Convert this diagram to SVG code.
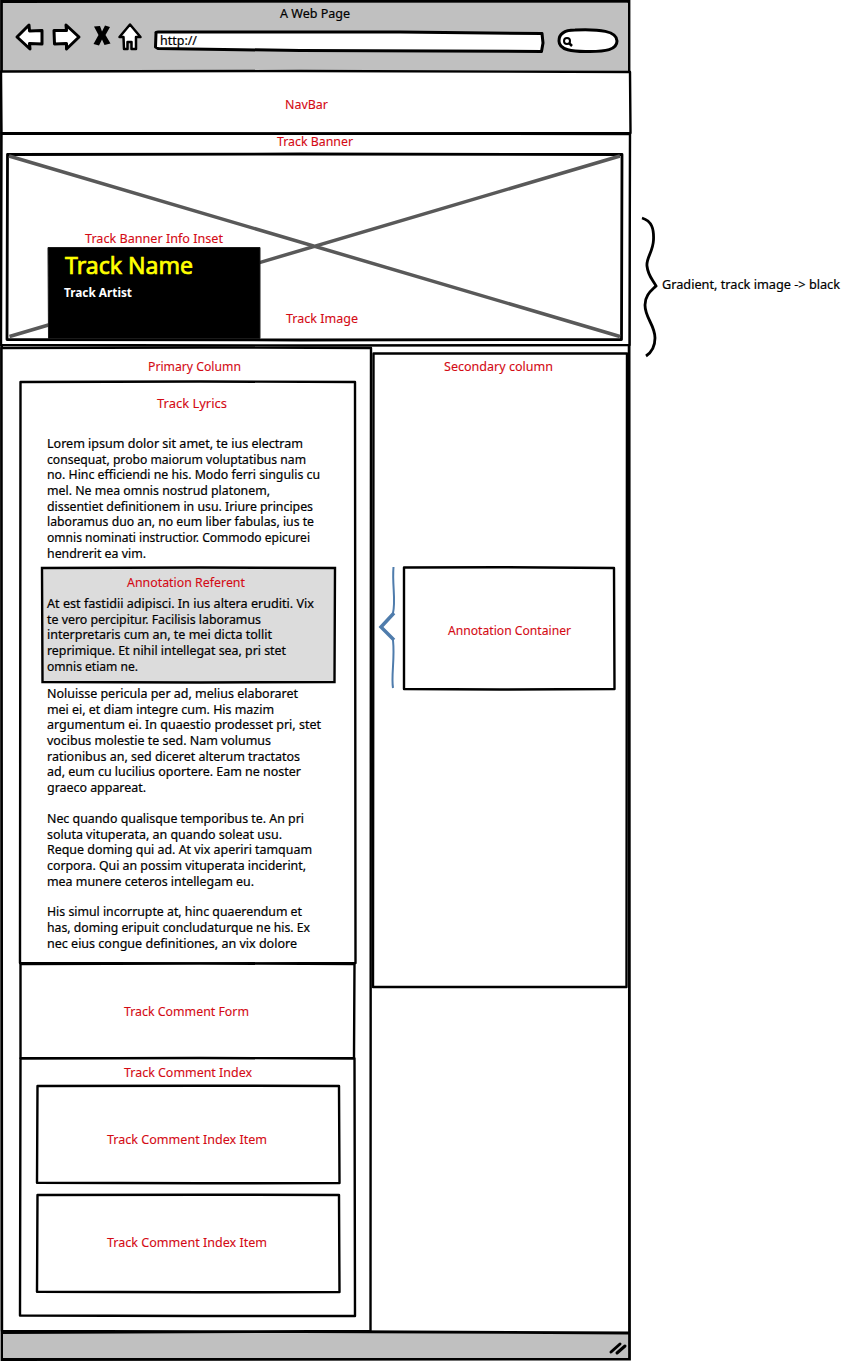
<svg xmlns="http://www.w3.org/2000/svg" width="866" height="1361" viewBox="0 0 866 1361">
<style>
text{font-family:"Noto Sans","Open Sans","DejaVu Sans",sans-serif;font-size:12.5px;fill:#000;stroke:#000;stroke-width:.2}
text.l{fill:#d40a14;stroke:#d40a14;stroke-width:.1}
.b{fill:#fff;stroke:#000;stroke-width:2.400;stroke-linejoin:round}
.n{fill:none;stroke:#000;stroke-width:2.400;stroke-linejoin:round}
.i{fill:#fff;stroke:#000;stroke-width:3;stroke-linejoin:round}
.x{fill:none;stroke:#595959;stroke-width:3.500}
</style>
<rect width="866" height="1361" fill="#fff"/>
<g id="browser-window">
<path d="M1.500 1.500 L629 1.200 L629.500 1359 L2 1359.500 Z" fill="#fff" stroke="#000" stroke-width="2.800"/>
<path d="M3 3 H628 V71 H3 Z" fill="#c0c0c0"/>
<path d="M3 1333 H628 V1358 H3 Z" fill="#c0c0c0"/>
<path class="n" d="M1 1332.500 L300 1331.500 L629 1333" style="stroke-width:2.800"/>
<path class="n" d="M611 1352 L620 1344 M617 1353 L625 1346" style="stroke-width:3;stroke-linecap:round"/>
<text x="280" y="18" textLength="70" lengthAdjust="spacingAndGlyphs">A Web Page</text>
<path class="i" d="M17 37 L29 25 L29.500 31 L42 30.500 L42 44 L29.500 43.500 L30 49 Z"/>
<path class="i" d="M54 30.500 L66.500 30.500 L66 25 L79 37 L66.500 49 L66.500 43.500 L54.500 44 Z"/>
<path d="M94 26.500 L100 26 L102 31.500 L105 25.500 L110 27 L105.500 35 L110.500 43.500 L104.500 45 L102 39.500 L99 45.500 L93.500 44 L98.500 35 Z" fill="#000"/>
<path class="i" d="M130 24.500 L140.500 37 L136 37 L136 49 L131.500 49 L131.500 42 L127.500 42 L127.500 49 L124 49 L123.500 37 L119.500 37 Z" style="stroke-width:2.500"/>
<path class="i" d="M156 33 Q155.500 32 158 32 L400 32 L542 33.500 L543 43 L541.500 51.500 L300 50.500 L158 48.500 L155.500 47 Z"/>
<text x="160" y="45" textLength="37" lengthAdjust="spacingAndGlyphs">http://</text>
<path class="i" d="M575 30 C600 29 617 31 617 41 C617 50 605 51.500 590 51.500 C572 52 559 50 559 41 C559 33 565 30 575 30 Z"/>
<circle cx="567" cy="41" r="3" fill="none" stroke="#000" stroke-width="2"/>
<path d="M569 43 L572 46" stroke="#000" stroke-width="2.500"/>
</g>
<g id="navbar">
<path class="b" d="M1 71.500 L300 71 L630 72 L630.500 133 L300 133.500 L1.500 133 Z"/>
<text class="l" x="285" y="109" textLength="43" lengthAdjust="spacingAndGlyphs">NavBar</text>
</g>
<g id="track-banner">
<path class="b" d="M1.500 133.500 L630 134 L629.500 345 L300 345.500 L1 345 Z"/>
<text class="l" x="277" y="146" textLength="76" lengthAdjust="spacingAndGlyphs">Track Banner</text>
</g>
<g id="track-image">
<path class="n" d="M7.500 154.500 L300 154 L622 154.500 L621.500 339.500 L300 340 L7 339.500 Z" style="stroke-width:2.800"/>
<path class="x" d="M9 156 L620 336.500 M9.500 336.500 L620 156"/>
<text class="l" x="286" y="323" textLength="72" lengthAdjust="spacingAndGlyphs">Track Image</text>
</g>
<g id="track-banner-info-inset">
<path d="M48 247.500 L260 247.500 L260 338.500 L48.500 338.500 Z" fill="#000" stroke="#1a1a1a" stroke-width="1"/>
<text class="l" x="85" y="243" textLength="138" lengthAdjust="spacingAndGlyphs">Track Banner Info Inset</text>
<text x="65" y="274" textLength="128" lengthAdjust="spacingAndGlyphs" style="font-size:23px;fill:#ff0;stroke:#ff0;stroke-width:.7">Track Name</text>
<text x="64" y="297" textLength="68" lengthAdjust="spacingAndGlyphs" style="font-weight:700;fill:#fff;stroke:none">Track Artist</text>
</g>
<g id="primary-column">
<path class="b" d="M1.500 348 L200 347.500 L371 348 L370.500 1331 L200 1331.500 L2 1331 Z"/>
<text class="l" x="148" y="371" textLength="93" lengthAdjust="spacingAndGlyphs">Primary Column</text>
</g>
<g id="secondary-column">
<path class="b" d="M373.500 353.500 L627 353.500 L626.500 987 L373 987 Z"/>
<text class="l" x="444" y="371" textLength="109" lengthAdjust="spacingAndGlyphs">Secondary column</text>
</g>
<g id="track-lyrics">
<path class="b" d="M20.500 382 L200 381.500 L355 382 L355.500 963 L200 963.500 L20 963 Z"/>
<text class="l" x="157" y="408" textLength="70" lengthAdjust="spacingAndGlyphs">Track Lyrics</text>
<text x="47" y="448" textLength="256" lengthAdjust="spacingAndGlyphs">Lorem ipsum dolor sit amet, te ius electram</text>
<text x="47" y="463.700" textLength="259" lengthAdjust="spacingAndGlyphs">consequat, probo maiorum voluptatibus nam</text>
<text x="47" y="479.300" textLength="273" lengthAdjust="spacingAndGlyphs">no. Hinc efficiendi ne his. Modo ferri singulis cu</text>
<text x="47" y="495" textLength="223" lengthAdjust="spacingAndGlyphs">mel. Ne mea omnis nostrud platonem,</text>
<text x="47" y="510.700" textLength="266" lengthAdjust="spacingAndGlyphs">dissentiet definitionem in usu. Iriure principes</text>
<text x="47" y="526.300" textLength="267" lengthAdjust="spacingAndGlyphs">laboramus duo an, no eum liber fabulas, ius te</text>
<text x="47" y="542" textLength="263" lengthAdjust="spacingAndGlyphs">omnis nominati instructior. Commodo epicurei</text>
<text x="47" y="557.700" textLength="99" lengthAdjust="spacingAndGlyphs">hendrerit ea vim.</text>
<text x="47" y="698" textLength="251" lengthAdjust="spacingAndGlyphs">Noluisse pericula per ad, melius elaboraret</text>
<text x="47" y="713.600" textLength="227" lengthAdjust="spacingAndGlyphs">mei ei, et diam integre cum. His mazim</text>
<text x="47" y="729.200" textLength="274" lengthAdjust="spacingAndGlyphs">argumentum ei. In quaestio prodesset pri, stet</text>
<text x="47" y="744.800" textLength="224" lengthAdjust="spacingAndGlyphs">vocibus molestie te sed. Nam volumus</text>
<text x="47" y="760.500" textLength="253" lengthAdjust="spacingAndGlyphs">rationibus an, sed diceret alterum tractatos</text>
<text x="47" y="776.100" textLength="254" lengthAdjust="spacingAndGlyphs">ad, eum cu lucilius oportere. Eam ne noster</text>
<text x="47" y="791.700" textLength="99" lengthAdjust="spacingAndGlyphs">graeco appareat.</text>
<text x="47" y="823" textLength="257" lengthAdjust="spacingAndGlyphs">Nec quando qualisque temporibus te. An pri</text>
<text x="47" y="838.700" textLength="235" lengthAdjust="spacingAndGlyphs">soluta vituperata, an quando soleat usu.</text>
<text x="47" y="854.300" textLength="265" lengthAdjust="spacingAndGlyphs">Reque doming qui ad. At vix aperiri tamquam</text>
<text x="47" y="870" textLength="259" lengthAdjust="spacingAndGlyphs">corpora. Qui an possim vituperata inciderint,</text>
<text x="47" y="885.700" textLength="207" lengthAdjust="spacingAndGlyphs">mea munere ceteros intellegam eu.</text>
<text x="47" y="916" textLength="255" lengthAdjust="spacingAndGlyphs">His simul incorrupte at, hinc quaerendum et</text>
<text x="47" y="931.800" textLength="263" lengthAdjust="spacingAndGlyphs">has, doming eripuit concludaturque ne his. Ex</text>
<text x="47" y="947.500" textLength="250" lengthAdjust="spacingAndGlyphs">nec eius congue definitiones, an vix dolore</text>
</g>
<g id="annotation-referent">
<path d="M42 568 L200 567.500 L335 568 L334.500 682 L200 682.500 L42.500 682 Z" fill="#dcdcdc" stroke="#000" stroke-width="2.400"/>
<text class="l" x="127" y="587" textLength="118" lengthAdjust="spacingAndGlyphs">Annotation Referent</text>
<text x="47" y="608" textLength="267" lengthAdjust="spacingAndGlyphs">At est fastidii adipisci. In ius altera eruditi. Vix</text>
<text x="47" y="623.700" textLength="214" lengthAdjust="spacingAndGlyphs">te vero percipitur. Facilisis laboramus</text>
<text x="47" y="639.400" textLength="225" lengthAdjust="spacingAndGlyphs">interpretaris cum an, te mei dicta tollit</text>
<text x="47" y="655" textLength="239" lengthAdjust="spacingAndGlyphs">reprimique. Et nihil intellegat sea, pri stet</text>
<text x="47" y="670.700" textLength="91" lengthAdjust="spacingAndGlyphs">omnis etiam ne.</text>
</g>
<g id="annotation-container">
<path class="b" d="M404 567.500 L500 567.200 L614 568 L614.500 689 L500 689.500 L404 689 Z"/>
<text class="l" x="448" y="635" textLength="123" lengthAdjust="spacingAndGlyphs">Annotation Container</text>
</g>
<g id="track-comment-form">
<path class="b" d="M20.500 964 L200 963.500 L354.500 964 L354 1058 L200 1058.500 L20.500 1058 Z"/>
<text class="l" x="124" y="1016" textLength="125" lengthAdjust="spacingAndGlyphs">Track Comment Form</text>
</g>
<g id="track-comment-index">
<path class="b" d="M20.500 1058.500 L200 1058 L354.500 1058.500 L355 1316 L200 1316 L20 1315.500 Z"/>
<text class="l" x="124" y="1077" textLength="128" lengthAdjust="spacingAndGlyphs">Track Comment Index</text>
</g>
<g id="track-comment-index-item-1">
<path class="b" d="M37.500 1086 L200 1085.700 L339 1086 L339.500 1183 L200 1183.300 L37 1182.700 Z"/>
<text class="l" x="107" y="1144" textLength="160" lengthAdjust="spacingAndGlyphs">Track Comment Index Item</text>
</g>
<g id="track-comment-index-item-2">
<path class="b" d="M37.500 1195 L200 1194.700 L339 1195 L339.500 1292 L200 1292.300 L37 1291.700 Z"/>
<text class="l" x="107" y="1247" textLength="160" lengthAdjust="spacingAndGlyphs">Track Comment Index Item</text>
</g>
<g id="connectors">
<path d="M393.500 567 C392 585 396 600 393 613" fill="none" stroke="#4f7cac" stroke-width="2"/>
<path d="M394 613 L381 627 L394 640" fill="none" stroke="#4f7cac" stroke-width="3.500"/>
<path d="M393 640 C395 660 391 675 393 688" fill="none" stroke="#4f7cac" stroke-width="2"/>
<path d="M642 218 C652 221 654 229 653.500 240 C653 252 646 258 647 266 C648 276 653 280 656 286 C651 291 645 295 645 305 C645 318 655 325 655 338 C655 347 652 352 646 356" fill="none" stroke="#000" stroke-width="2.800"/>
</g>
<g id="gradient-note">
<text x="662" y="289" textLength="178" lengthAdjust="spacingAndGlyphs">Gradient, track image -&gt; black</text>
</g>
</svg>
